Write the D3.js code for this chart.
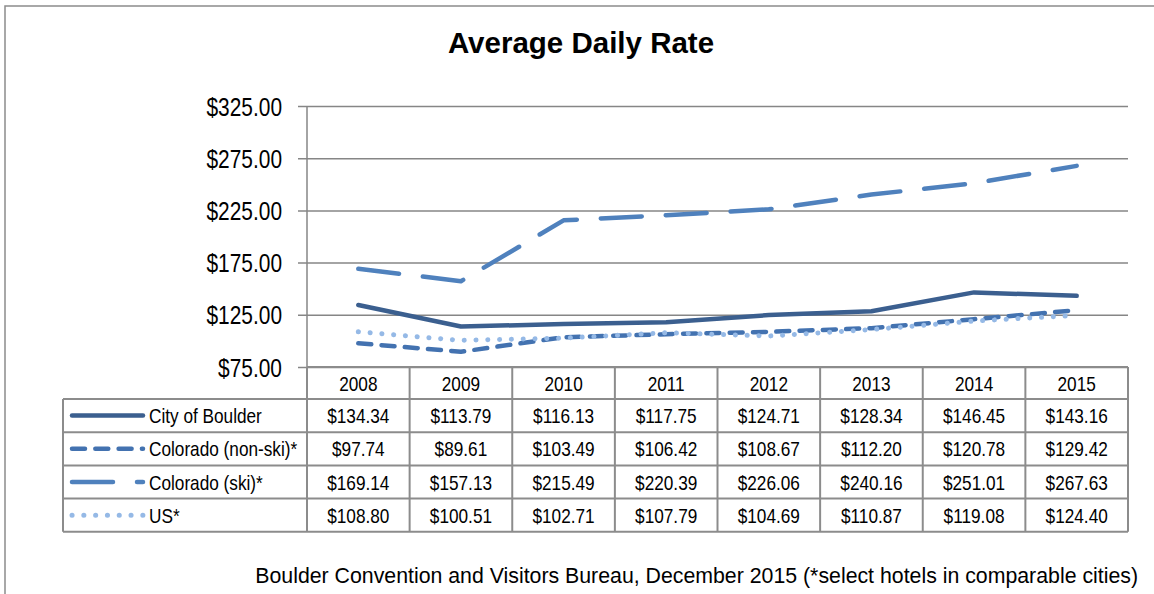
<!DOCTYPE html>
<html>
<head>
<meta charset="utf-8">
<script src="https://cdn.jsdelivr.net/npm/d3@7"></script>
<style>
  body { margin: 0; background: #fff; }
  svg { display: block; }
  text { font-family: "Liberation Sans", Arial, sans-serif; fill: #000; }
</style>
</head>
<body>
<div id="wrapper"></div>
<script>
const years = ["2008", "2009", "2010", "2011", "2012", "2013", "2014", "2015"]
const seriesNames = ["City of Boulder", "Colorado (non-ski)*", "Colorado (ski)*", "US*"]
const boulder = [134.34, 113.79, 116.13, 117.75, 124.71, 128.34, 146.45, 143.16]
const coloradoNonSki = [97.74, 89.61, 103.49, 106.42, 108.67, 112.20, 120.78, 129.42]
const coloradoSki = [169.14, 157.13, 215.49, 220.39, 226.06, 240.16, 251.01, 267.63]
const us = [108.80, 100.51, 102.71, 107.79, 104.69, 110.87, 119.08, 124.40]
const yTicks = [75, 125, 175, 225, 275, 325]

const series = [
  { name: seriesNames[0], values: boulder, color: "#3b5f8f", dash: null, width: 4.5 },
  { name: seriesNames[1], values: coloradoNonSki, color: "#4372b0", dash: "13,10.3", width: 4.5 },
  { name: seriesNames[2], values: coloradoSki, color: "#4f81bd", dash: "41,24", width: 4.5 },
  { name: seriesNames[3], values: us, color: "#95b9e6", dash: "0.1,11.7", width: 5 },
]

const dms = {
  width: 1154,
  height: 594,
  plotLeft: 307,
  plotRight: 1128,
  plotTop: 106,
  plotBottom: 367,
  tableLeft: 63,
  headerBottom: 399,
  rowHeight: 33.2,
}

// no Arial Narrow here, so squeeze the regular face
const squeeze = 0.82
const narrowAt = (x, y) => `translate(${x},${y}) scale(${squeeze},1)`

const fmt = d3.format("$,.2f")

const svg = d3.select("#wrapper")
  .append("svg")
  .attr("width", dms.width)
  .attr("height", dms.height)

// outer frame
svg.append("rect")
  .attr("x", 5)
  .attr("y", 6)
  .attr("width", dms.width + 10)
  .attr("height", dms.height + 10)
  .attr("fill", "none")
  .attr("stroke", "#8c8c8c")
  .attr("stroke-width", 1.5)

svg.append("text")
  .attr("x", 581)
  .attr("y", 53)
  .attr("text-anchor", "middle")
  .style("font-weight", "bold")
  .style("font-size", "29.5px")
  .text("Average Daily Rate")

const xScale = d3.scaleBand()
  .domain(years)
  .range([dms.plotLeft, dms.plotRight])

const yScale = d3.scaleLinear()
  .domain([75, 325])
  .range([dms.plotBottom, dms.plotTop])

const xMid = d => xScale(d) + xScale.bandwidth() / 2

// gridlines + y axis
const yAxisGenerator = d3.axisLeft(yScale)
  .tickValues(yTicks)
  .tickSize(-(dms.plotRight - dms.plotLeft))
  .tickFormat(fmt)

const yAxis = svg.append("g")
  .attr("transform", `translate(${dms.plotLeft},0)`)
  .call(yAxisGenerator)
yAxis.select(".domain").remove()
yAxis.selectAll(".tick line")
  .attr("x1", -9)
  .attr("stroke", "#868686")
  .attr("stroke-width", 1.5)
yAxis.selectAll(".tick text")
  .attr("x", null)
  .attr("dy", null)
  .attr("transform", narrowAt(-25, 9))
  .attr("fill", "#000")
  .style("font-family", null)
  .style("font-size", "25.5px")

svg.append("line")
  .attr("x1", dms.plotLeft).attr("x2", dms.plotLeft)
  .attr("y1", dms.plotTop).attr("y2", dms.plotBottom)
  .attr("stroke", "#868686")
  .attr("stroke-width", 1.5)

// lines
const lineGenerator = d3.line()
  .x((d, i) => xMid(years[i]))
  .y(d => yScale(d))

svg.append("g")
  .selectAll("path")
  .data(series)
  .join("path")
  .attr("d", d => lineGenerator(d.values))
  .attr("fill", "none")
  .attr("stroke", d => d.color)
  .attr("stroke-width", d => d.width)
  .attr("stroke-linecap", "round")
  .attr("stroke-linejoin", "round")
  .attr("stroke-dasharray", d => d.dash)

// data table
const table = svg.append("g")
const tableBottom = dms.headerBottom + dms.rowHeight * series.length
const gridStroke = "#8c8c8c"

table.append("line")
  .attr("x1", dms.plotLeft).attr("x2", dms.plotRight)
  .attr("y1", dms.plotBottom).attr("y2", dms.plotBottom)
  .attr("stroke", gridStroke).attr("stroke-width", 2)

d3.range(series.length + 1).forEach(i => {
  const y = dms.headerBottom + i * dms.rowHeight
  table.append("line")
    .attr("x1", dms.tableLeft).attr("x2", dms.plotRight)
    .attr("y1", y).attr("y2", y)
    .attr("stroke", gridStroke).attr("stroke-width", 2)
})

table.append("line")
  .attr("x1", dms.tableLeft).attr("x2", dms.tableLeft)
  .attr("y1", dms.headerBottom).attr("y2", tableBottom)
  .attr("stroke", gridStroke).attr("stroke-width", 2)

years.concat(["end"]).forEach((yr, i) => {
  const x = i < years.length ? xScale(yr) : dms.plotRight
  table.append("line")
    .attr("x1", x).attr("x2", x)
    .attr("y1", dms.plotBottom).attr("y2", tableBottom)
    .attr("stroke", gridStroke).attr("stroke-width", 2)
})

// header years
table.selectAll(".year")
  .data(years)
  .join("text")
  .attr("transform", d => narrowAt(xMid(d), (dms.plotBottom + dms.headerBottom) / 2 + 7.5))
  .attr("text-anchor", "middle")
  .style("font-size", "21px")
  .text(d => d)

// rows
series.forEach((s, r) => {
  const cy = dms.headerBottom + r * dms.rowHeight + dms.rowHeight / 2
  table.append("line")
    .attr("x1", 72).attr("x2", 143)
    .attr("y1", cy).attr("y2", cy)
    .attr("stroke", s.color)
    .attr("stroke-width", s.width)
    .attr("stroke-linecap", "round")
    .attr("stroke-dasharray", s.dash)
  table.append("text")
    .attr("transform", narrowAt(149, cy + 7.5))
    .style("font-size", "21px")
    .text(s.name)
  table.selectAll(null)
    .data(s.values)
    .join("text")
    .attr("transform", (d, i) => narrowAt(xMid(years[i]), cy + 7.5))
    .attr("text-anchor", "middle")
    .style("font-size", "21px")
    .text(d => fmt(d))
})

svg.append("text")
  .attr("x", 1138)
  .attr("y", 583)
  .attr("text-anchor", "end")
  .style("font-size", "21.3px")
  .text("Boulder Convention and Visitors Bureau, December 2015 (*select hotels in comparable cities)")
</script>
</body>
</html>
